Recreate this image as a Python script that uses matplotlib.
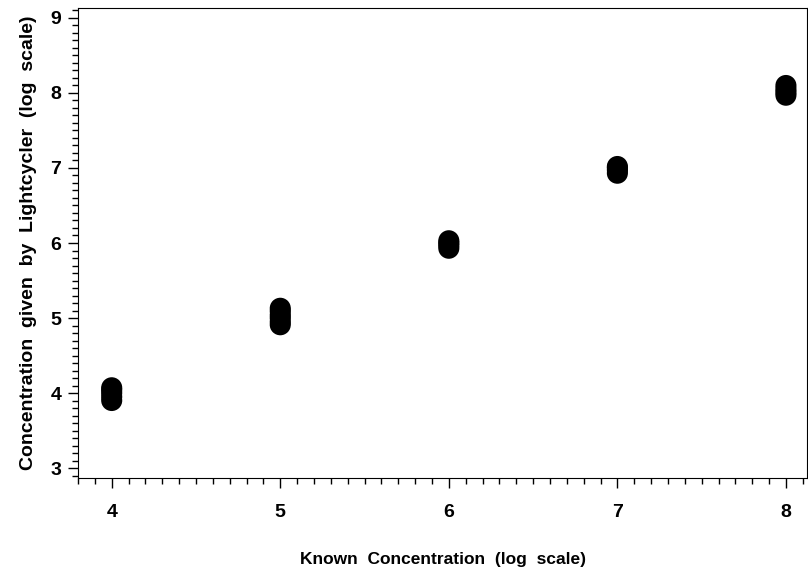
import matplotlib.pyplot as plt
from matplotlib.ticker import MultipleLocator

plt.rcParams['font.family'] = ['Liberation Sans', 'DejaVu Sans']

# known vs measured concentrations (log scale)
known = [4, 4, 4, 4, 4, 5, 5, 5, 5, 5, 5, 6, 6, 6, 6, 7, 7, 7, 7, 8, 8, 8, 8]
measured = [3.90, 3.95, 4.00, 4.04, 4.07,
            4.91, 4.95, 5.00, 5.04, 5.09, 5.13,
            5.93, 5.97, 6.00, 6.03,
            6.93, 6.97, 7.00, 7.02,
            7.97, 8.01, 8.05, 8.10]

fig = plt.figure(figsize=(8.08, 5.71), dpi=100)
ax = fig.add_axes([78 / 808, 1 - 478 / 571, 729 / 808, 470 / 571])

ax.scatter(known, measured, s=230, c='black', marker='o', edgecolors='none')

ax.set_xlim(3.8, 8.125)
ax.set_ylim(2.867, 9.133)
ax.xaxis.set_major_locator(MultipleLocator(1))
ax.xaxis.set_minor_locator(MultipleLocator(0.1))
ax.yaxis.set_major_locator(MultipleLocator(1))
ax.yaxis.set_minor_locator(MultipleLocator(0.1))
ax.tick_params(which='major', length=7, width=1, labelsize=14)
ax.tick_params(which='minor', length=4, width=1)
ax.tick_params(axis='x', which='major', pad=12)
ax.tick_params(axis='y', which='major', pad=5)
for lab in ax.get_xticklabels() + ax.get_yticklabels():
    lab.set_fontweight('bold')

ax.set_xlabel('Known  Concentration  (log  scale)', fontsize=12.5, fontweight='bold', labelpad=22)
ax.set_ylabel('Concentration  given  by  Lightcycler  (log  scale)', fontsize=14,
              fontweight='bold', labelpad=10)

fig.savefig('out.png', dpi=100)
